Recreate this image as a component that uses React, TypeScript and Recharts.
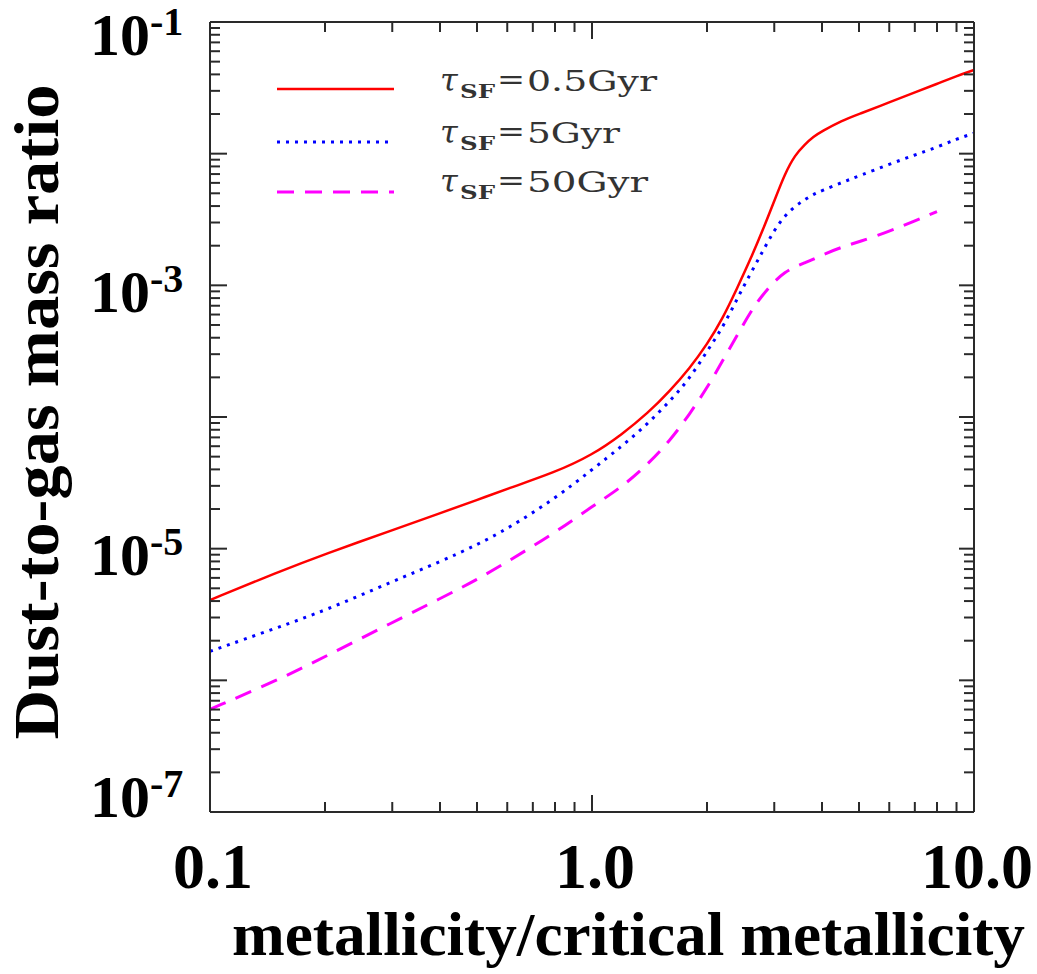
import React from 'react';
import { LineChart, Line, XAxis, YAxis, Legend } from 'recharts';

// metallicity / critical metallicity
const xs = [0.1, 0.15, 0.2, 0.3, 0.4, 0.5, 0.6, 0.8, 1.0, 1.2, 1.4, 1.6, 1.8, 2.0, 2.2, 2.4, 2.6, 2.8, 3.0, 3.2, 3.4, 3.6, 3.8, 4.0, 4.5, 5, 6, 7, 8, 9, 10];

// dust-to-gas mass ratio, tau_SF = 0.5 Gyr
const tau05 = [4.07e-6, 6.61e-6, 9.12e-6, 1.38e-5, 1.86e-5, 2.34e-5, 2.85e-5, 3.80e-5, 5.13e-5, 7.41e-5, 1.07e-4, 1.58e-4, 2.34e-4, 3.55e-4, 5.62e-4, 9.55e-4, 1.58e-3, 2.63e-3, 4.37e-3, 7.08e-3, 9.77e-3, 1.17e-2, 1.35e-2, 1.48e-2, 1.78e-2, 2.0e-2, 2.45e-2, 2.92e-2, 3.39e-2, 3.89e-2, 4.32e-2];
// tau_SF = 5 Gyr
const tau5 = [1.66e-6, 2.51e-6, 3.39e-6, 5.62e-6, 7.94e-6, 1.07e-5, 1.41e-5, 2.40e-5, 3.98e-5, 6.03e-5, 8.91e-5, 1.32e-4, 1.95e-4, 3.16e-4, 4.79e-4, 7.94e-4, 1.23e-3, 1.82e-3, 2.63e-3, 3.39e-3, 3.98e-3, 4.47e-3, 4.90e-3, 5.25e-3, 6.03e-3, 6.76e-3, 8.32e-3, 9.77e-3, 1.12e-2, 1.29e-2, 1.43e-2];
// tau_SF = 50 Gyr
const tau50 = [6.03e-7, 1.0e-6, 1.51e-6, 2.75e-6, 4.17e-6, 5.82e-6, 7.94e-6, 1.32e-5, 2.09e-5, 2.95e-5, 4.37e-5, 6.61e-5, 1.05e-4, 1.66e-4, 2.69e-4, 4.17e-4, 6.31e-4, 8.51e-4, 1.07e-3, 1.26e-3, 1.38e-3, 1.48e-3, 1.58e-3, 1.70e-3, 1.95e-3, 2.14e-3, 2.57e-3, 3.09e-3, 3.63e-3, null, null];

const seriesKeys = ['t05', 't5', 't50'];
const seriesLabels = ['0.5Gyr', '5Gyr', '50Gyr'];
const seriesColors = ['#ff0000', '#0000ff', '#ff00ff'];
const seriesDash = ['', '3 6', '17 11'];
const seriesWidths = [2.5, 3, 3];

const xTicks = [0.1, 0.2, 0.3, 0.4, 0.5, 0.6, 0.7, 0.8, 0.9, 1, 2, 3, 4, 5, 6, 7, 8, 9, 10];
const xMajor = [0.1, 1, 10];
const xLabels: Record<string, string> = { '0.1': '0.1', '1': '1.0', '10': '10.0' };

const yDecades = [-7, -6, -5, -4, -3, -2, -1];
const yTicks: number[] = [];
yDecades.forEach((d) => {
  [1, 2, 3, 4, 5, 6, 7, 8, 9].forEach((m) => {
    if (d === -1 && m > 1) return;
    yTicks.push(Number((m * Math.pow(10, d)).toPrecision(3)));
  });
});
const yLabelExps = [-1, -3, -5, -7];

const data = xs.map((x, i) => ({ x, t05: tau05[i], t5: tau5[i], t50: tau50[i] }));

const W = 1037;
const H = 974;
const PL = 210, PT = 22, PR = 974, PB = 812;
const AX = '#2a2a2a';
const SERIF = '"Liberation Serif", "Times New Roman", serif';

const isMajorY = (v: number) => {
  const l = Math.log10(v);
  return Math.abs(l - Math.round(l)) < 1e-6;
};
const isMajorX = (v: number) => xMajor.some((m) => Math.abs(m - v) < 1e-9);

const labelOffset: Record<number, number> = { [-1]: 33, [-3]: 27, [-5]: 26, [-7]: 5 };

const BottomTick = (props: any) => {
  const { x, y, payload } = props;
  const v = payload.value;
  const len = isMajorX(v) ? 17 : 10;
  const lab = xLabels[String(v)];
  return (
    <g>
      <line x1={x} x2={x} y1={y} y2={y - len} stroke={AX} strokeWidth={2} />
      {lab && (
        <text x={x + 3} y={y + 76} textAnchor="middle" fontFamily={SERIF} fontWeight="bold" fontSize={64} fill="#000">
          {lab}
        </text>
      )}
    </g>
  );
};

const TopTick = (props: any) => {
  const { x, y, payload } = props;
  const len = isMajorX(payload.value) ? 17 : 10;
  return <line x1={x} x2={x} y1={y} y2={y + len} stroke={AX} strokeWidth={2} />;
};

const LeftTick = (props: any) => {
  const { x, y, payload } = props;
  const v = payload.value;
  const major = isMajorY(v);
  const len = major ? 17 : 10;
  const e = Math.round(Math.log10(v));
  const showLab = major && yLabelExps.includes(e);
  return (
    <g>
      <line x1={x} x2={x + len} y1={y} y2={y} stroke={AX} strokeWidth={2} />
      {showLab && (
        <text x={90} y={y + labelOffset[e]} textAnchor="start" fontFamily={SERIF} fontWeight="bold" fontSize={60} fill="#000">
          10
          <tspan fontSize={40} dy={-20}>{`-${-e}`}</tspan>
        </text>
      )}
    </g>
  );
};

const RightTick = (props: any) => {
  const { x, y, payload } = props;
  const len = isMajorY(payload.value) ? 15 : 10;
  return <line x1={x} x2={x - len} y1={y} y2={y} stroke={AX} strokeWidth={2} />;
};

const LegendContent = () => {
  const rowY = [34, 87, 137];
  const baseY = [36, 88, 137];
  const valW = [130, 93, 121];
  return (
    <svg width={430} height={160} style={{ overflow: 'visible' }}>
      {seriesKeys.map((k, i) => (
        <g key={k}>
          <line
            x1={17}
            x2={134}
            y1={rowY[i]}
            y2={rowY[i]}
            stroke={seriesColors[i]}
            strokeWidth={seriesWidths[i]}
            strokeDasharray={seriesDash[i] || undefined}
          />
          <text x={180} y={baseY[i]} fontFamily='"DejaVu Serif", serif' fontStyle="italic" fontSize={32} fill="#333">
            τ
          </text>
          <text x={200} y={baseY[i] + 7} fontFamily='"DejaVu Serif", serif' fontWeight="bold" fontSize={19} fill="#333" textLength={35} lengthAdjust="spacingAndGlyphs">
            SF
          </text>
          <text x={237} y={baseY[i] - 2} fontFamily='"DejaVu Serif", serif' fontSize={27} fill="#333" textLength={28} lengthAdjust="spacingAndGlyphs">
            =
          </text>
          <text x={267} y={baseY[i]} fontFamily='"DejaVu Serif", serif' fontSize={27} fill="#333" textLength={valW[i]} lengthAdjust="spacingAndGlyphs">
            {seriesLabels[i]}
          </text>
        </g>
      ))}
    </svg>
  );
};

export default function App() {
  return (
    <div style={{ position: 'absolute', left: 0, top: 0, width: W, height: H, background: '#fff' }}>
      <LineChart
        width={W}
        height={H}
        data={data}
        margin={{ top: PT - 1, right: W - PR - 1, bottom: H - PB - 1, left: PL - 1 }}
      >
        <XAxis
          dataKey="x"
          type="number"
          scale="log"
          domain={[0.1, 10]}
          allowDataOverflow
          ticks={xTicks}
          interval={0}
          height={1}
          tickSize={0}
          tickMargin={0}
          tickLine={false}
          axisLine={{ stroke: AX, strokeWidth: 2 }}
          tick={<BottomTick />}
        />
        <XAxis
          xAxisId="top"
          orientation="top"
          dataKey="x"
          type="number"
          scale="log"
          domain={[0.1, 10]}
          allowDataOverflow
          ticks={xTicks}
          interval={0}
          height={1}
          tickSize={0}
          tickMargin={0}
          tickLine={false}
          axisLine={{ stroke: AX, strokeWidth: 2 }}
          tick={<TopTick />}
        />
        <YAxis
          type="number"
          scale="log"
          domain={[1e-7, 1e-1]}
          allowDataOverflow
          ticks={yTicks}
          interval={0}
          width={1}
          tickSize={0}
          tickMargin={0}
          tickLine={false}
          axisLine={{ stroke: AX, strokeWidth: 2 }}
          tick={<LeftTick />}
        />
        <YAxis
          yAxisId="right"
          orientation="right"
          type="number"
          scale="log"
          domain={[1e-7, 1e-1]}
          allowDataOverflow
          ticks={yTicks}
          interval={0}
          width={1}
          tickSize={0}
          tickMargin={0}
          tickLine={false}
          axisLine={{ stroke: AX, strokeWidth: 2 }}
          tick={<RightTick />}
        />
        <Legend
          layout="horizontal"
          verticalAlign="middle"
          align="center"
          content={<LegendContent />}
          wrapperStyle={{ position: 'absolute', left: 260, top: 55, width: 430, height: 160 }}
        />
        {seriesKeys.map((k, i) => (
          <Line
            key={k}
            dataKey={k}
            type="basis"
            stroke={seriesColors[i]}
            strokeWidth={seriesWidths[i]}
            strokeDasharray={seriesDash[i] || undefined}
            dot={false}
            activeDot={false}
            isAnimationActive={false}
            connectNulls={false}
          />
        ))}
      </LineChart>
      <svg width={W} height={H} style={{ position: 'absolute', left: 0, top: 0, pointerEvents: 'none' }}>
        <text
          x={232}
          y={955}
          fontFamily={SERIF}
          fontWeight="bold"
          fontSize={62}
          fill="#000"
          textLength={793}
          lengthAdjust="spacingAndGlyphs"
        >
          metallicity/critical metallicity
        </text>
        <text
          transform="translate(58,412) rotate(-90)"
          x={0}
          y={0}
          textAnchor="middle"
          fontFamily={SERIF}
          fontWeight="bold"
          fontSize={64}
          fill="#000"
          textLength={655}
          lengthAdjust="spacingAndGlyphs"
        >
          Dust-to-gas mass ratio
        </text>
      </svg>
    </div>
  );
}
